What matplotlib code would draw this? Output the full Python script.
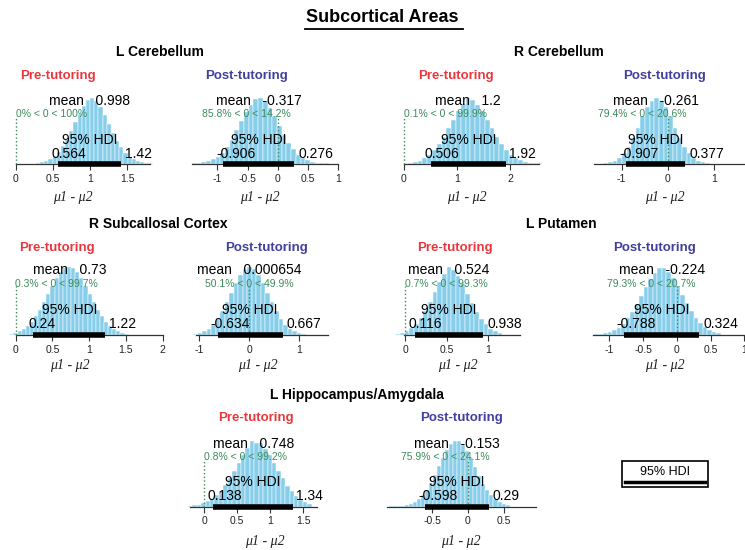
import matplotlib

matplotlib.use("Agg")
import matplotlib.pyplot as plt
from matplotlib.lines import Line2D
from matplotlib.patches import Rectangle
from matplotlib.transforms import offset_copy

plt.rcParams["font.family"] = ["Liberation Sans", "DejaVu Sans"]
plt.rcParams["axes.unicode_minus"] = False

W, H = 745, 550

REGIONS = ["L Cerebellum", "R Cerebellum", "R Subcallosal Cortex", "L Putamen",
           "L Hippocampus/Amygdala"]
CONDITIONS = ["Pre-tutoring", "Post-tutoring"]

# posterior summaries of mu1 - mu2, panels ordered region by region, pre then post
MEANS = [0.998, -0.317, 1.2, -0.261, 0.73, 0.000654, 0.524, -0.224, 0.748, -0.153]
HDI_LO = [0.564, -0.906, 0.506, -0.907, 0.24, -0.634, 0.116, -0.788, 0.138, -0.598]
HDI_HI = [1.42, 0.276, 1.92, 0.377, 1.22, 0.667, 0.938, 0.324, 1.34, 0.29]
PCT_BELOW = [0, 85.8, 0.1, 79.4, 0.3, 50.1, 0.7, 79.3, 0.8, 75.9]
PCT_ABOVE = [100, 14.2, 99.9, 20.6, 99.7, 49.9, 99.3, 20.7, 99.2, 24.1]

# histogram of posterior samples: first bin edge, bin width, relative bar heights
HIST_START = [0.272, -1.418, 0.08, -1.495, -0.087, -1.30, -0.119, -1.228, -0.248, -1.102]
HIST_WIDTH = [0.056, 0.078, 0.09, 0.10, 0.056, 0.09, 0.056, 0.067, 0.067, 0.056]
HIST_HEIGHTS = [
    [0.02, 0.03, 0.05, 0.08, 0.12, 0.18, 0.27, 0.37, 0.50, 0.63, 0.76, 0.88, 0.97, 1.0,
     0.95, 0.86, 0.74, 0.60, 0.47, 0.35, 0.25, 0.17, 0.11, 0.07, 0.04, 0.025, 0.015, 0.01],
    [0.01, 0.015, 0.025, 0.04, 0.07, 0.11, 0.17, 0.26, 0.37, 0.51, 0.65, 0.79, 0.90, 0.98,
     1.0, 0.95, 0.85, 0.72, 0.58, 0.44, 0.32, 0.22, 0.14, 0.09, 0.055, 0.03, 0.02, 0.012,
     0.008, 0.005],
    [0.02, 0.03, 0.05, 0.085, 0.135, 0.205, 0.30, 0.41, 0.54, 0.67, 0.80, 0.91, 1.0, 0.97,
     0.90, 0.80, 0.67, 0.54, 0.41, 0.30, 0.21, 0.14, 0.09, 0.055, 0.035, 0.02, 0.012, 0.008],
    [0.006, 0.012, 0.024, 0.05, 0.093, 0.16, 0.26, 0.39, 0.55, 0.72, 0.86, 0.96, 1.0, 0.96,
     0.86, 0.72, 0.55, 0.39, 0.26, 0.16, 0.093, 0.05, 0.024, 0.012],
    [0.02, 0.034, 0.056, 0.089, 0.135, 0.198, 0.278, 0.375, 0.487, 0.607, 0.726, 0.835,
     0.92, 0.98, 1.0, 0.98, 0.92, 0.835, 0.726, 0.607, 0.487, 0.375, 0.278, 0.198, 0.135,
     0.089, 0.056, 0.034, 0.02],
    [0.003, 0.007, 0.015, 0.029, 0.053, 0.093, 0.152, 0.236, 0.349, 0.48, 0.625, 0.768,
     0.889, 0.971, 1.0, 0.971, 0.889, 0.768, 0.625, 0.48, 0.349, 0.236, 0.152, 0.093,
     0.053, 0.029, 0.015],
    [0.02, 0.032, 0.059, 0.1, 0.163, 0.249, 0.36, 0.492, 0.635, 0.775, 0.893, 1.0, 0.96,
     0.87, 0.75, 0.61, 0.47, 0.345, 0.24, 0.155, 0.095, 0.055, 0.03],
    [0.008, 0.014, 0.025, 0.042, 0.07, 0.11, 0.168, 0.245, 0.34, 0.455, 0.575, 0.70, 0.82,
     0.915, 0.98, 0.99, 0.93, 0.84, 0.72, 0.595, 0.47, 0.355, 0.255, 0.175, 0.115, 0.072,
     0.043, 0.025],
    [0.012, 0.02, 0.033, 0.052, 0.08, 0.12, 0.175, 0.245, 0.33, 0.43, 0.54, 0.66, 0.78,
     0.885, 1.0, 0.97, 0.96, 0.88, 0.78, 0.66, 0.54, 0.43, 0.32, 0.235, 0.16, 0.105, 0.065,
     0.04],
    [0.004, 0.006, 0.01, 0.016, 0.025, 0.042, 0.07, 0.112, 0.173, 0.255, 0.359, 0.48, 0.612,
     0.743, 0.86, 0.947, 0.995, 0.99, 0.94, 0.85, 0.735, 0.605, 0.47, 0.35, 0.25, 0.17,
     0.11, 0.068, 0.04, 0.023],
]

TICKS = [[0, 0.5, 1, 1.5], [-1, -0.5, 0, 0.5, 1], [0, 1, 2], [-1, 0, 1],
         [0, 0.5, 1, 1.5, 2], [-1, 0, 1], [0, 0.5, 1], [-1, -0.5, 0, 0.5, 1],
         [0, 0.5, 1, 1.5], [-0.5, 0, 0.5]]

# panel geometry in pixels: x of zero, px per unit, x range, baseline y, peak height
GEOM = [
    (15.7, 74.4, 0.0, 1.8, 164, 66),
    (277.8, 60.5, -1.41, 1.0, 164, 66),
    (403.7, 53.3, 0.0, 2.53, 164, 66),
    (668.0, 46.3, -1.60, 1.8, 164, 66),
    (15.7, 73.5, 0.0, 2.0, 335, 68),
    (249.3, 50.0, -1.06, 1.58, 335, 68),
    (405.3, 83.0, -0.02, 1.38, 335, 68),
    (677.0, 67.5, -1.24, 1.1, 335, 68),
    (204.3, 66.0, -0.22, 1.70, 506.7, 66),
    (468.0, 72.0, -1.13, 0.95, 506.7, 66),
]
GROUP_POS = [(160, 52), (558.5, 52), (158.7, 224), (561.5, 224), (356.7, 395)]
SUBTITLE_POS = [(58, 76), (247, 76), (455.7, 76), (665, 76), (57, 247.7), (266, 247.7),
                (455, 247.7), (654.7, 247.7), (256, 418.3), (462, 418.3)]
XLABEL_POS = [(72.5, 197), (260, 197), (467, 197), (665, 197), (70, 365), (258, 365),
              (458.3, 365), (665.3, 365), (265, 541.7), (461, 541.7)]

BAR_COLOR = "#87CEEB"
COMP_COLOR = "#3d8b5a"
COND_COLORS = ["#e8383d", "#3f3f9f"]
AX_H = 80


def fx(px):
    return px / W


def fy(py):
    return 1 - py / H


fig = plt.figure(figsize=(W / 100, H / 100), dpi=100)
frac_texts = []

for i in range(10):
    zero, scale, xmin, xmax, base, peak = GEOM[i]
    left = zero + xmin * scale
    ax = fig.add_axes([fx(left), fy(base), (xmax - xmin) * scale / W, AX_H / H])
    ax.set_xlim(xmin, xmax)
    ax.set_ylim(0, AX_H / peak)
    for side in ["top", "left", "right"]:
        ax.spines[side].set_visible(False)
    ax.spines["bottom"].set_color("#333333")
    ax.spines["bottom"].set_linewidth(0.9)
    ax.set_yticks([])
    ax.patch.set_alpha(0)

    heights = HIST_HEIGHTS[i]
    edges = [HIST_START[i] + k * HIST_WIDTH[i] for k in range(len(heights))]
    bars = ax.bar(edges, heights, width=HIST_WIDTH[i], align="edge", color=BAR_COLOR,
                  edgecolor="white", linewidth=0.35, zorder=1)
    for b in bars:
        b.set_clip_on(False)

    ax.set_xticks(TICKS[i])
    ax.set_xticklabels([f"{t:g}" for t in TICKS[i]])
    ax.tick_params(axis="x", length=4, width=0.8, pad=3, labelsize=7.5,
                   color="#333333", labelcolor="#222222")

    # comparison value and share of samples on each side
    ax.plot([0, 0], [0, 0.72], ls=":", color=COMP_COLOR, lw=1, zorder=3, clip_on=False)
    t = ax.text(0, 0.755, f"{PCT_BELOW[i]:g}% < 0 < {PCT_ABOVE[i]:g}%", ha="left",
                va="center", fontsize=7.5, color=COMP_COLOR, zorder=4)
    frac_texts.append((t, PCT_BELOW[i] / 100))

    ax.text(MEANS[i], 0.955, f"mean   {MEANS[i]:g}", ha="center", va="center",
            fontsize=10, zorder=4)

    # 95% HDI bar and its limits
    lo, hi = HDI_LO[i], HDI_HI[i]
    ax.plot([lo, hi], [0, 0], color="black", lw=4, solid_capstyle="butt", zorder=5,
            clip_on=False)
    ax.text((lo + hi) / 2, 0.37, "95% HDI", ha="center", va="center", fontsize=10, zorder=4)
    t = ax.text(lo, 0.155, f"{lo:g}", ha="left", va="center", fontsize=10, zorder=4)
    frac_texts.append((t, 0.18))
    t = ax.text(hi, 0.155, f"{hi:g}", ha="left", va="center", fontsize=10, zorder=4)
    frac_texts.append((t, -0.12))

    sx, sy = SUBTITLE_POS[i]
    fig.text(fx(sx), fy(sy), CONDITIONS[i % 2], ha="center", va="center", fontsize=9.5,
             fontweight="bold", color=COND_COLORS[i % 2])
    lx, ly = XLABEL_POS[i]
    fig.text(fx(lx), fy(ly), "\u03bc1 - \u03bc2", ha="center", va="center", fontsize=10,
             family="Liberation Serif", style="italic", color="#222222")

for name, (gx, gy) in zip(REGIONS, GROUP_POS):
    fig.text(fx(gx), fy(gy), name, ha="center", va="center", fontsize=10,
             fontweight="bold")

fig.text(fx(382), fy(18), "Subcortical Areas", ha="center", va="center", fontsize=13,
         fontweight="bold")
fig.add_artist(Line2D([fx(305), fx(463)], [fy(29), fy(29)], color="black", lw=1.3))

# legend key for the HDI bar
fig.add_artist(Rectangle((fx(621.7), fy(486.7)), 86.6 / W, 26 / H, fill=False,
                         edgecolor="black", lw=1.2, transform=fig.transFigure))
fig.text(fx(665), fy(472), "95% HDI", ha="center", va="center", fontsize=9)
fig.add_artist(Line2D([fx(625), fx(705)], [fy(481.5), fy(481.5)], color="black", lw=2.5))

# shift texts so a given fraction of their width sits left of the anchor
fig.canvas.draw()
renderer = fig.canvas.get_renderer()
for t, frac in frac_texts:
    w = t.get_window_extent(renderer).width
    t.set_transform(offset_copy(t.get_transform(), x=-frac * w, units="dots"))

fig.savefig("out.png", dpi=100)
